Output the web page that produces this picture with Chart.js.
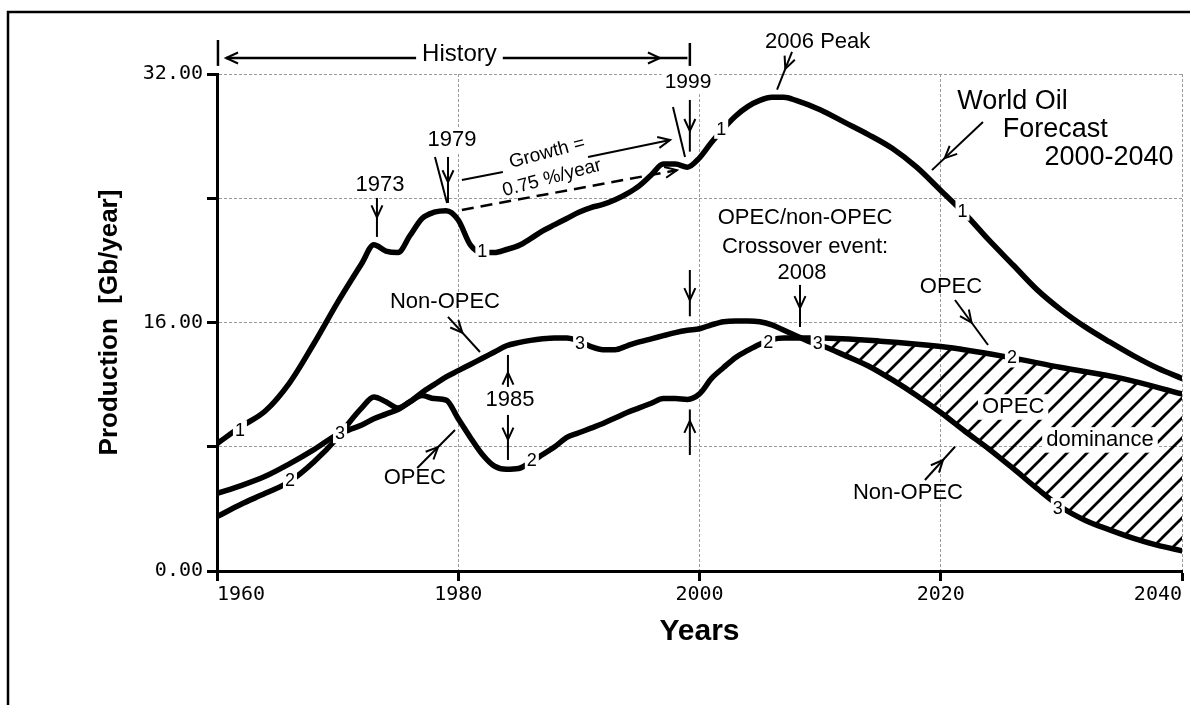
<!DOCTYPE html>
<html><head><meta charset="utf-8">
<script src="https://cdn.jsdelivr.net/npm/chart.js@4.4.1/dist/chart.umd.min.js"></script>
<style>html,body{margin:0;padding:0;background:#fff;overflow:hidden;}canvas{display:block;}</style>
</head><body>
<canvas id="c" width="1190" height="705"></canvas>
<script>
// ---- data (Gb/year) ----
const worldYears = [1960,1962,1964,1966,1968,1970,1972,1973,1974,1975,1976,1977,1978,1979,1980,1981,1982,1983,1984,1985,1986,1987,1988,1989,1990,1991,1992,1993,1994,1995,1996,1997,1998,1999,2000,2001,2002,2003,2004,2005,2006,2007,2008,2010,2012,2014,2016,2018,2020,2022,2024,2026,2028,2030,2032,2034,2036,2038,2040];
const worldValues = [8.2,9.3,10.3,12.1,14.6,17.3,19.8,21.0,20.6,20.5,21.6,22.7,23.1,23.2,22.6,21.0,20.5,20.5,20.7,20.95,21.4,21.9,22.3,22.7,23.1,23.4,23.6,23.9,24.3,24.8,25.5,26.2,26.2,26.0,26.6,27.6,28.5,29.3,29.9,30.3,30.5,30.5,30.3,29.7,28.9,28.1,27.2,26.0,24.5,23.0,21.3,19.7,18.1,16.8,15.7,14.75,13.85,13.05,12.4];

const opecYears = [1960,1962,1964,1966,1968,1970,1971,1972,1973,1974,1975,1976,1977,1978,1979,1980,1981,1982,1983,1984,1985,1986,1987,1988,1989,1990,1991,1992,1993,1994,1995,1996,1997,1998,1999,2000,2001,2002,2003,2004,2005,2006,2007,2008,2010,2015,2020,2025,2030,2035,2040];
const opecValues = [3.5,4.3,5.0,5.75,7.0,8.6,9.6,10.5,11.2,10.9,10.5,10.9,11.3,11.1,11.0,9.8,8.6,7.5,6.75,6.55,6.6,7.0,7.5,8.0,8.6,8.9,9.2,9.5,9.85,10.2,10.5,10.8,11.1,11.1,11.05,11.4,12.4,13.1,13.75,14.2,14.6,14.9,15.0,15.0,15.0,14.8,14.45,13.85,13.1,12.4,11.4];

const nonOpecYears = [1960,1962,1964,1966,1968,1970,1971,1972,1973,1974,1975,1976,1977,1978,1979,1980,1981,1982,1983,1984,1985,1986,1987,1988,1989,1990,1991,1992,1993,1994,1995,1996,1997,1998,1999,2000,2001,2002,2003,2004,2005,2006,2007,2008,2009,2010,2012,2014,2016,2018,2020,2022,2024,2026,2028,2030,2032,2034,2036,2038,2040];
const nonOpecValues = [5.0,5.5,6.1,6.9,7.8,8.8,9.1,9.4,9.8,10.1,10.4,10.9,11.5,12.0,12.5,12.9,13.3,13.7,14.1,14.5,14.7,14.85,14.95,15.0,15.0,14.8,14.45,14.25,14.25,14.5,14.75,14.95,15.15,15.35,15.5,15.6,15.85,16.05,16.1,16.1,16.05,15.85,15.5,15.15,14.8,14.55,13.9,13.2,12.3,11.3,10.2,9.0,7.85,6.6,5.3,4.1,3.25,2.65,2.1,1.65,1.3];

const hatchFromYear = 2008;

// ---- ticks ----
const xTickValues = [1960,1980,2000,2020,2040];
const xTickLabels = ['1960','1980','2000','2020','2040'];
const yTickValues = [0,8,16,24,32];
const yTickLabels = ['0.00','','16.00','','32.00'];

// ---- curve number labels [text, year, value] ----
const lineLabels = [
  ['1',1961.9,9.06],['1',1982.0,20.63],['1',2001.8,28.47],['1',2021.8,23.2],
  ['2',1966.05,5.85],['2',1986.1,7.13],['2',2005.7,14.72],['2',2025.9,13.75],
  ['3',1970.2,8.87],['3',1990.1,14.65],['3',2009.8,14.65],['3',2029.7,4.05]
];

// ---- annotation texts [text, year, value, size, bgPad, rotationDeg] ----
const annotTexts = [
  ['History',1980.1,33.29,24,6,0],
  ['1999',1999.05,31.49,21,3,0],
  ['2006 Peak',2009.8,34.06,22,0,0],
  ['World Oil',2025.95,30.2,27,0,0],
  ['Forecast',2029.5,28.4,27,0,0],
  ['2000-2040',2033.95,26.59,27,0,0],
  ['1979',1979.48,27.75,22,3,0],
  ['Growth =',1987.36,26.92,19,0,-15],
  ['0.75 %/year',1987.77,25.3,19,0,-15],
  ['1973',1973.51,24.86,22,0,0],
  ['OPEC/non-OPEC',2008.75,22.73,22,0,0],
  ['Crossover event:',2008.75,20.86,22,0,0],
  ['2008',2008.5,19.19,22,0,0],
  ['Non-OPEC',1978.9,17.32,22,0,0],
  ['1985',1984.29,11.0,22,0,0],
  ['OPEC',1976.4,5.99,22,0,0],
  ['OPEC',2020.85,18.29,22,0,0],
  ['OPEC',2026.0,10.56,22,4,0],
  ['dominance',2033.2,8.44,22,4,0],
  ['Non-OPEC',2017.28,5.02,22,0,0]
];

// ---- annotation arrows [x1,y1,x2,y2, headPos, width, dashed] ----
const annotArrows = [
  [1980.0,33.03,1960.75,33.03,1,2.5,0],
  [1980.0,33.03,1999.0,33.03,0.88,2.5,0],
  [1960.08,34.19,1960.08,32.52,null,2.5,0],
  [1999.2,34.0,1999.2,32.52,null,2.5,0],
  [1999.2,30.33,1999.2,27.0,0.6,2,0],
  [1997.8,29.88,1998.8,26.66,null,2,0],
  [2007.67,33.42,2006.43,31.0,0.45,2,0],
  [2023.5,28.91,2019.27,25.81,0.75,2,0],
  [1979.15,26.66,1979.15,23.7,0.55,2,0],
  [1978.07,26.66,1979.07,23.7,null,2,0],
  [1980.3,25.18,1983.7,25.69,null,2,0],
  [1990.76,26.66,1997.56,27.75,1,2,0],
  [1980.3,23.25,1998.13,25.81,1,2.5,1],
  [1973.26,24.02,1973.26,21.51,0.5,2,0],
  [2008.33,18.42,2008.33,15.71,0.55,2,0],
  [1979.15,16.36,1981.8,14.1,0.45,2,0],
  [1984.12,11.85,1984.12,13.91,0.45,2,0],
  [1984.12,10.05,1984.12,7.15,0.55,2,0],
  [1976.6,6.63,1979.73,9.08,0.55,2,0],
  [1999.2,19.38,1999.2,16.4,0.65,2,0],
  [1999.2,7.47,1999.2,10.4,0.75,2,0],
  [2021.18,17.45,2023.92,14.55,0.5,2,0],
  [2018.69,5.86,2021.18,8.0,0.6,2,0]
];

const FONT = '"Liberation Sans", Arial, Helvetica, sans-serif';
const MONO = '"DejaVu Sans Mono", monospace';

const canvas = document.getElementById('c');
const mainCtx = canvas.getContext('2d');

function makeHatch() {
  const s = 20;
  const c = document.createElement('canvas');
  c.width = s; c.height = s;
  const g = c.getContext('2d');
  g.strokeStyle = '#000'; g.lineWidth = 2.8; g.lineCap = 'square';
  g.beginPath();
  g.moveTo(0, s); g.lineTo(s, 0);
  g.moveTo(-3, 3); g.lineTo(3, -3);
  g.moveTo(s - 3, s + 3); g.lineTo(s + 3, s - 3);
  g.stroke();
  return mainCtx.createPattern(c, 'repeat');
}

function pts(xs, ys) { return xs.map((x, i) => ({x: x, y: ys[i]})); }
const hatchPts = pts(opecYears, opecValues).filter(p => p.x >= hatchFromYear);

function drawText(ctx, t, x, y, size, bg, rot) {
  ctx.save();
  ctx.font = size + 'px ' + FONT;
  ctx.translate(x, y);
  if (rot) ctx.rotate(rot * Math.PI / 180);
  ctx.textAlign = 'center'; ctx.textBaseline = 'middle';
  if (bg) {
    const w = ctx.measureText(t).width;
    ctx.fillStyle = '#fff';
    ctx.fillRect(-w / 2 - bg, -size * 0.58, w + 2 * bg, size * 1.16);
  }
  ctx.fillStyle = '#000';
  ctx.fillText(t, 0, 0);
  ctx.restore();
}

function drawArrow(ctx, a, b, t, w, dashed) {
  ctx.save();
  ctx.strokeStyle = '#000'; ctx.lineWidth = w; ctx.lineCap = 'butt';
  if (dashed) ctx.setLineDash([12, 7]);
  ctx.beginPath(); ctx.moveTo(a[0], a[1]); ctx.lineTo(b[0], b[1]); ctx.stroke();
  ctx.setLineDash([]);
  if (t !== null && t !== undefined) {
    const dx = b[0] - a[0], dy = b[1] - a[1], L = Math.hypot(dx, dy);
    const ux = dx / L, uy = dy / L;
    const px = a[0] + dx * t, py = a[1] + dy * t, hl = 12, hw = 5.5;
    ctx.lineWidth = 2;
    ctx.beginPath();
    ctx.moveTo(px - ux * hl - uy * hw, py - uy * hl + ux * hw);
    ctx.lineTo(px, py);
    ctx.lineTo(px - ux * hl + uy * hw, py - uy * hl - ux * hw);
    ctx.stroke();
  }
  ctx.restore();
}

const annotPlugin = {
  id: 'annot',
  beforeDraw(chart) {
    const ctx = chart.ctx;
    ctx.save();
    ctx.fillStyle = '#fff'; ctx.fillRect(0, 0, chart.width, chart.height);
    ctx.strokeStyle = '#000'; ctx.lineWidth = 2.5;
    ctx.beginPath();
    ctx.moveTo(8, chart.height + 5);
    ctx.lineTo(8, 12);
    ctx.lineTo(chart.width + 5, 12);
    ctx.stroke();
    ctx.restore();
  },
  afterDatasetsDraw(chart) {
    const xs = chart.scales.x, ys = chart.scales.y, ctx = chart.ctx;
    const P = (x, y) => [xs.getPixelForValue(x), ys.getPixelForValue(y)];
    annotArrows.forEach(a => drawArrow(ctx, P(a[0], a[1]), P(a[2], a[3]), a[4], a[5], a[6]));
    annotTexts.forEach(t => { const p = P(t[1], t[2]); drawText(ctx, t[0], p[0], p[1], t[3], t[4], t[5]); });
    lineLabels.forEach(l => {
      const p = P(l[1], l[2]);
      ctx.save();
      ctx.font = '18px ' + FONT;
      ctx.fillStyle = '#fff';
      ctx.fillRect(p[0] - 7, p[1] - 10, 14, 20);
      ctx.fillStyle = '#000'; ctx.textAlign = 'center'; ctx.textBaseline = 'middle';
      ctx.fillText(l[0], p[0], p[1] + 1);
      ctx.restore();
    });
  }
};

const lineStyle = {borderColor: '#000', borderWidth: 5.5, pointRadius: 0, fill: false,
  cubicInterpolationMode: 'monotone', borderCapStyle: 'round', borderJoinStyle: 'round'};

new Chart(mainCtx, {
  type: 'line',
  data: {
    datasets: [
      Object.assign({label: 'World', data: pts(worldYears, worldValues)}, lineStyle),
      Object.assign({label: 'OPEC', data: pts(opecYears, opecValues)}, lineStyle),
      Object.assign({label: 'Non-OPEC', data: pts(nonOpecYears, nonOpecValues)}, lineStyle),
      {label: 'OPEC dominance', data: hatchPts, borderWidth: 0, borderColor: 'rgba(0,0,0,0)',
       pointRadius: 0, cubicInterpolationMode: 'monotone',
       fill: {target: 2, above: makeHatch(), below: 'rgba(0,0,0,0)'}}
    ]
  },
  options: {
    responsive: false, animation: false, devicePixelRatio: 1,
    layout: {padding: {top: 74, right: 8, left: 0, bottom: 0}},
    plugins: {legend: {display: false}, tooltip: {enabled: false}, filler: {propagate: false}},
    scales: {
      x: {
        type: 'linear', min: 1960, max: 2040,
        afterFit(s) { s.height = 134; },
        afterBuildTicks(s) { s.ticks = xTickValues.map(v => ({value: v})); },
        ticks: {
          callback: v => { const i = xTickValues.indexOf(v); return i < 0 ? '' : xTickLabels[i]; },
          font: {family: MONO, size: 20}, color: '#000', padding: 2, align: 'inner',
          maxRotation: 0, autoSkip: false
        },
        grid: {color: c => (c.tick && c.tick.value === 1960) ? 'rgba(0,0,0,0)' : '#9a9a9a',
               lineWidth: 1, tickColor: '#000', tickLength: 10, tickWidth: 3},
        border: {display: true, color: '#000', width: 3, dash: [3, 2]},
        title: {display: true, text: 'Years', color: '#000',
                font: {family: FONT, size: 30, weight: 'bold'}, padding: {top: 0, bottom: 55}}
      },
      y: {
        type: 'linear', min: 0, max: 32,
        afterFit(s) { s.width = 217; },
        afterBuildTicks(s) { s.ticks = yTickValues.map(v => ({value: v})); },
        ticks: {
          callback: v => { const i = yTickValues.indexOf(v); return i < 0 ? '' : yTickLabels[i]; },
          font: {family: MONO, size: 20}, color: '#000', padding: 4
        },
        grid: {color: c => (c.tick && c.tick.value === 0) ? 'rgba(0,0,0,0)' : '#9a9a9a',
               lineWidth: 1, tickColor: '#000', tickLength: 10, tickWidth: 3},
        border: {display: true, color: '#000', width: 3, dash: [3, 2]},
        title: {display: true, text: 'Production  [Gb/year]', color: '#000',
                font: {family: FONT, size: 26, weight: 'bold'}, padding: {top: 94, bottom: 0}}
      }
    }
  },
  plugins: [annotPlugin]
});
</script>
</body></html>
